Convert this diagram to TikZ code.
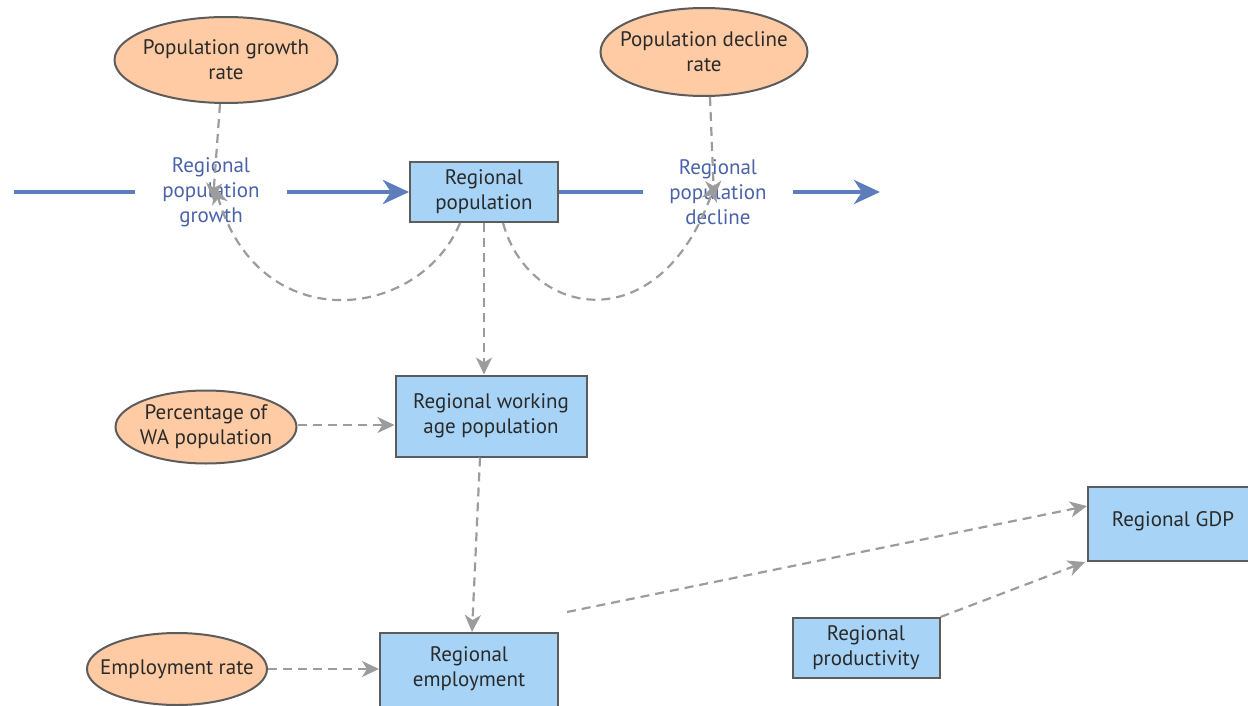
\documentclass[tikz,border=0pt]{standalone}
\usepackage{fontspec}
\setmainfont{PT Sans}
\usetikzlibrary{arrows.meta,shapes.geometric}
\definecolor{peach}{HTML}{FFCBA4}
\definecolor{stockblue}{HTML}{A6D3F6}
\definecolor{edgegray}{HTML}{5C5C5C}
\definecolor{txt}{HTML}{2A2A2A}
\definecolor{flowblue}{HTML}{5E7DBC}
\definecolor{flowtxt}{HTML}{4A62A8}
\definecolor{linkgray}{HTML}{9C9C9C}
\tikzset{
  every node/.style={font=\fontsize{21}{25}\selectfont, text=txt, align=center},
  aux/.style={ellipse, draw=edgegray, line width=2pt, fill=peach, inner sep=-14pt},
  stock/.style={rectangle, draw=edgegray, line width=2pt, fill=stockblue, inner sep=0pt},
  rate/.style={inner sep=0pt, text=flowtxt, minimum height=60pt},
  flow/.style={draw=flowblue, line width=4.5pt},
  flowtip/.style={flow, -{Stealth[length=26pt,width=24pt,inset=8pt]}},
  link/.style={draw=linkgray, line width=2.2pt, dash pattern=on 9pt off 6pt,
    -{Stealth[length=17pt,width=16pt,inset=5pt]}}
}
\begin{document}
\begin{tikzpicture}[x=1pt,y=-1pt]
\useasboundingbox (0,0) rectangle (1248,706);

% auxiliaries
\node[aux, minimum width=223pt, minimum height=86pt] (pgr) at (226,60) {Population growth\\rate};
\node[aux, minimum width=207pt, minimum height=88pt] (pdr) at (704,52) {Population decline\\rate};
\node[aux, minimum width=181pt, minimum height=73pt] (pwa) at (206,427) {Percentage of\\WA population};
\node[aux, minimum width=180pt, minimum height=72pt] (emr) at (177,669) {Employment rate};

% stocks and converters
\node[stock, minimum width=148pt, minimum height=60pt] (pop) at (484,192) {Regional\\population};
\node[stock, minimum width=191pt, minimum height=81pt] (wap) at (491,416) {Regional working\\age population};
\node[stock, minimum width=178pt, minimum height=80pt, anchor=north] (emp) at (469,632) {};
\node at (469,669) {Regional\\employment};
\node[stock, minimum width=172pt, minimum height=74pt, anchor=north west] (gdp) at (1087,486) {};
\node at (1173,521) {Regional GDP};
\node[stock, minimum width=147pt, minimum height=60pt] (prod) at (866,648) {Regional\\productivity};

% flow valves (labels only)
\node[rate, minimum width=152pt] (growth) at (211,192) {Regional\\population\\growth};
\node[rate, minimum width=150pt] (decline) at (718,192) {Regional\\population\\decline};

% flow pipes
\coordinate (src) at (14,192);
\coordinate (sink) at (880,192);
\draw[flow] (src) -- (growth.west);
\draw[flowtip] (growth.east) -- (pop.west);
\draw[flow] (pop.east) -- (decline.west);
\draw[flowtip] (decline.east) -- (sink);

% information links
\draw[link] ([xshift=-6pt]pgr.south) -- ([xshift=2pt,yshift=-8pt]growth.center);
\draw[link] ([xshift=-24pt]pop.south) .. controls (420,320) and (260,340) .. ([xshift=4pt,yshift=5pt]growth.center);
\draw[link] ([xshift=6pt]pdr.south) -- ([xshift=-4pt,yshift=-6pt]decline.center);
\draw[link] ([xshift=19pt]pop.south) .. controls (530,320) and (660,340) .. ([xshift=-3pt,yshift=8pt]decline.center);
\draw[link] (pop.south) -- ([xshift=-7pt]wap.north);
\draw[link] ([yshift=2pt]pwa.east) -- ([yshift=2pt]pwa.east -| wap.west);
\draw[link] ([xshift=-11pt]wap.south) -- ([xshift=3pt]emp.north);
\draw[link] (emr.east) -- (emr.east -| emp.west);
\draw[link] ([xshift=8pt,yshift=20pt]emp.north east) -- ([yshift=18pt]gdp.west);
\draw[link] (prod.north east) -- ([xshift=-2pt]gdp.south west);
\end{tikzpicture}
\end{document}
